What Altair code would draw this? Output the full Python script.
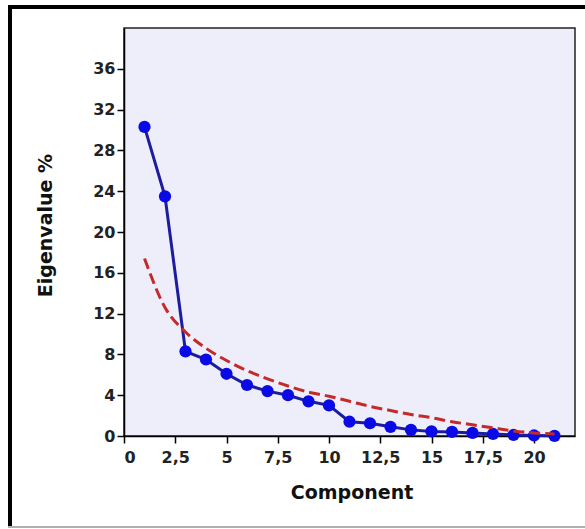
import altair as alt
import pandas as pd

# ---- data ----
component = [1, 2, 3, 4, 5, 6, 7, 8, 9, 10, 11, 12, 13, 14, 15, 16, 17, 18, 19, 20, 21]
eigenvalue_pct = [30.3, 23.5, 8.3, 7.5, 6.1, 5.0, 4.4, 4.0, 3.4, 3.0,
                  1.4, 1.25, 0.9, 0.6, 0.45, 0.4, 0.3, 0.2, 0.1, 0.05, 0.02]
broken_stick = [17.4, 12.6, 10.2, 8.6, 7.4, 6.4, 5.6, 4.9, 4.3, 3.9,
                3.4, 2.9, 2.5, 2.1, 1.8, 1.4, 1.1, 0.8, 0.5, 0.3, 0.2]
x_ticks = [0, 2.5, 5, 7.5, 10, 12.5, 15, 17.5, 20]
y_ticks = [0, 4, 8, 12, 16, 20, 24, 28, 32, 36]

df = pd.DataFrame({
    "Component": component,
    "Eigenvalue": eigenvalue_pct,
    "BrokenStick": broken_stick,
})

W, H = 451, 408

x_axis = alt.Axis(values=x_ticks,
                  labelExpr="replace(format(datum.value, '~g'), '.', ',')",
                  labelOverlap=False,
                  title="Component", labelPadding=6, titleY=56, titleX=W / 2 + 2,
                  titleBaseline="middle", titleAlign="center")
y_axis = alt.Axis(values=y_ticks, title="Eigenvalue %", labelPadding=2, labelOverlap=False,
                  titleX=-79, titleY=197, titleAngle=270,
                  titleBaseline="middle", titleAlign="center")

x_scale = alt.Scale(domain=[0, 22], nice=False, zero=False)
y_scale = alt.Scale(domain=[0, 40], nice=False)

base = alt.Chart(df)

blue_line = base.mark_line(color="#1c1c9e", strokeWidth=3).encode(
    x=alt.X("Component:Q", scale=x_scale, axis=x_axis),
    y=alt.Y("Eigenvalue:Q", scale=y_scale, axis=y_axis),
)
points = base.mark_circle(color="#0a0ae6", size=150, opacity=1).encode(
    x=alt.X("Component:Q", scale=x_scale, axis=x_axis),
    y=alt.Y("Eigenvalue:Q", scale=y_scale, axis=y_axis),
)
red = base.mark_line(color="#c42a2a", strokeWidth=3, strokeDash=[11, 5],
                     interpolate="monotone").encode(
    x=alt.X("Component:Q", scale=x_scale, axis=x_axis),
    y=alt.Y("BrokenStick:Q", scale=y_scale, axis=y_axis),
)

# decorative outer frame of the figure
one = pd.DataFrame({"a": [0]})
frame_left = alt.Chart(one).mark_rule(color="black", strokeWidth=4, clip=False).encode(
    x=alt.value(-114), y=alt.value(-23), y2=alt.value(499))
frame_top = alt.Chart(one).mark_rule(color="black", strokeWidth=4, clip=False).encode(
    x=alt.value(-116), x2=alt.value(461), y=alt.value(-21))
frame_bottom = alt.Chart(one).mark_rule(color="#b0b0b0", strokeWidth=2, clip=False).encode(
    x=alt.value(-116), x2=alt.value(461), y=alt.value(499))

chart = alt.layer(blue_line, points, red, frame_left, frame_top, frame_bottom).properties(
    width=W, height=H,
    autosize=alt.AutoSizeParams(type="none"),
    padding={"left": 124, "top": 28, "right": 10, "bottom": 93},
    background="white",
).configure_view(
    fill="#eeeefb", stroke="#222222", strokeWidth=1.5
).configure_axis(
    grid=False,
    domainColor="black", domainWidth=1.5,
    tickColor="black", tickWidth=1.5, tickSize=7,
    labelFont="DejaVu Sans", labelFontWeight="bold", labelFontSize=16, labelColor="#222222",
    titleFont="DejaVu Sans", titleFontWeight="bold", titleFontSize=19, titleColor="#111111",
)

chart.save("out.html", embed_options={"renderer": "svg", "actions": False})
